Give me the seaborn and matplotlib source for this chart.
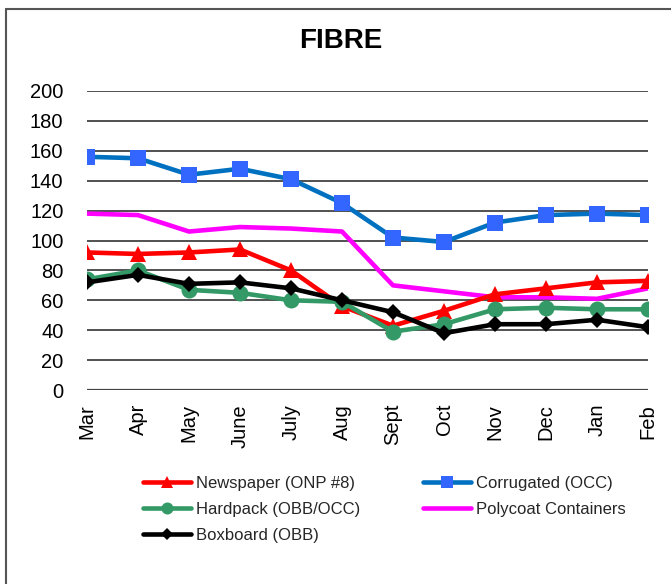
import matplotlib
matplotlib.use("Agg")
import matplotlib.pyplot as plt
import seaborn as sns
import pandas as pd
from matplotlib.lines import Line2D

months = ["Mar", "Apr", "May", "June", "July", "Aug", "Sept", "Oct", "Nov", "Dec", "Jan", "Feb"]
newspaper = [92, 91, 92, 94, 80, 56, 43, 53, 64, 68, 72, 73]
corrugated = [156, 155, 144, 148, 141, 125, 102, 99, 112, 117, 118, 117]
hardpack = [74, 80, 67, 65, 60, 59, 39, 44, 54, 55, 54, 54]
polycoat = [118, 117, 106, 109, 108, 106, 70, 66, 62, 62, 61, 68]
boxboard = [72, 77, 71, 72, 68, 60, 52, 38, 44, 44, 47, 42]

series_names = ["Newspaper (ONP #8)", "Hardpack (OBB/OCC)", "Boxboard (OBB)",
                "Corrugated (OCC)", "Polycoat Containers"]
series_vals = [newspaper, hardpack, boxboard, corrugated, polycoat]

sns.set_theme(style="white")
plt.rcParams["font.family"] = ["Liberation Sans", "DejaVu Sans"]

fig = plt.figure(figsize=(6.71, 5.84), dpi=100)
ax = fig.add_axes([87 / 671, 1 - 390 / 584, (648 - 87) / 671, (390 - 91) / 584])

x = list(range(len(months)))
styles = {
    "Newspaper (ONP #8)": dict(color="#FF0000", marker="^", mfc="#FF0000", mec="#FF0000", ms=12),
    "Hardpack (OBB/OCC)": dict(color="#339966", marker="o", mfc="#339966", mec="#339966", ms=11.5),
    "Boxboard (OBB)": dict(color="#000000", marker="D", mfc="#000000", mec="#000000", ms=8),
    "Corrugated (OCC)": dict(color="#0070C0", marker="s", mfc="#3366FF", mec="#3366FF", ms=11.5),
    "Polycoat Containers": dict(color="#FF00FF", marker=None),
}
zorders = {"Polycoat Containers": 3, "Corrugated (OCC)": 4, "Newspaper (ONP #8)": 5,
           "Hardpack (OBB/OCC)": 6, "Boxboard (OBB)": 7}

df = pd.DataFrame({"x": x * len(series_names),
                   "value": sum(series_vals, []),
                   "series": [n for n in series_names for _ in months]})

handles = []
for name in series_names:
    st = styles[name]
    sub = df[df["series"] == name]
    sns.lineplot(data=sub, x="x", y="value", ax=ax, color=st["color"], linewidth=3.3,
                 marker=st["marker"], markersize=st.get("ms", 0),
                 markerfacecolor=st.get("mfc"), markeredgecolor=st.get("mec"),
                 markeredgewidth=0, zorder=zorders[name], legend=False)
    handles.append(Line2D([0], [0], color=st["color"], linewidth=3.3, marker=st["marker"],
                          markersize=(st.get("ms", 0) * 0.75), markerfacecolor=st.get("mfc"),
                          markeredgecolor=st.get("mec"), markeredgewidth=0, label=name))

ax.set_xlim(0, 11)
ax.set_ylim(0, 200)
ax.set_yticks(range(0, 201, 20))
ax.set_xticks(x)
ax.set_xticklabels(months, rotation=90, fontsize=14.5)
ax.tick_params(axis="y", labelsize=14.5, length=0, pad=17)
ax.tick_params(axis="x", length=0, pad=10)
ax.set_xlabel("")
ax.set_ylabel("")
ax.grid(axis="y", color="#222222", linewidth=1.1)
ax.grid(axis="x", visible=False)
for s in ax.spines.values():
    s.set_visible(False)
ax.axhline(0, color="#444444", linewidth=1.6, zorder=1)
for lbl in ax.get_yticklabels():
    lbl.set_color("black")
for lbl in ax.get_xticklabels():
    lbl.set_color("black")

fig.text(341 / 671, 1 - 41 / 584, "FIBRE", ha="center", va="center",
         fontsize=20, fontweight="bold", color="black")

fig.legend(handles=handles, loc="upper left", bbox_to_anchor=(143 / 671, 1 - 476 / 584),
           ncol=2, frameon=False, fontsize=12, handlelength=2.9, handletextpad=0.25,
           columnspacing=3.8, labelspacing=0.65, borderpad=0, borderaxespad=0)

fig.add_artist(Line2D([5.5 / 671, 5.5 / 671], [0, 1 - 8.5 / 584], transform=fig.transFigure,
                      color="#555555", linewidth=1.5))
fig.add_artist(Line2D([5.5 / 671, 1], [1 - 8.5 / 584, 1 - 8.5 / 584], transform=fig.transFigure,
                      color="#555555", linewidth=1.5))

fig.savefig("out.png", dpi=100)
